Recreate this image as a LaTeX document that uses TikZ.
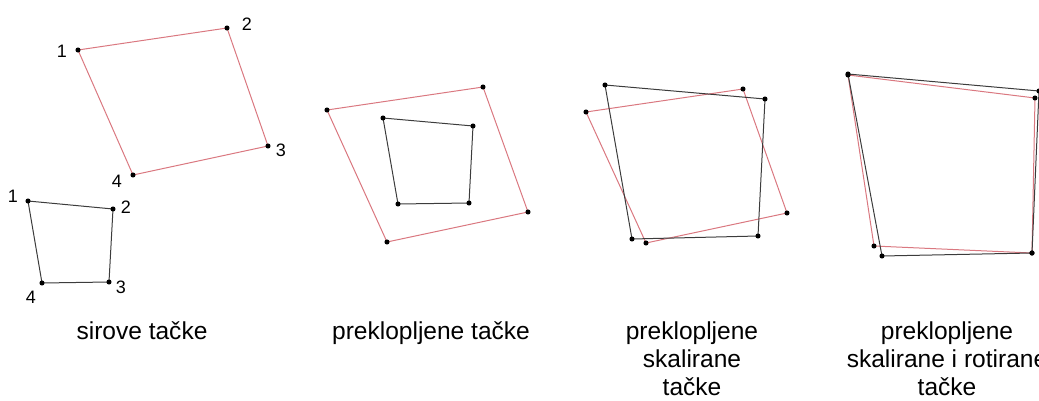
\documentclass[tikz,border=0pt]{standalone}
\usepackage{fontspec}
\setmainfont{Liberation Sans}
\definecolor{crvena}{RGB}{218,120,128}
\definecolor{siva}{RGB}{60,60,60}
\tikzset{
  crveni/.style={draw=crvena, line width=0.75pt, line join=round},
  crni/.style={draw=siva, line width=0.75pt, line join=round},
  broj/.style={font=\fontsize{13.5}{16}\selectfont, inner sep=0pt},
  natpis/.style={font=\fontsize{18.4}{21}\selectfont, align=center, anchor=base, inner sep=0pt},
}
\begin{document}
\begin{tikzpicture}[x=0.75pt, y=-0.75pt]
    \useasboundingbox (0,0) rectangle (1039,400);

    % Sirove tacke
    \coordinate (a1) at (78,50);
    \coordinate (a2) at (227,28);
    \coordinate (a3) at (268,146);
    \coordinate (a4) at (133,175);
    \coordinate (b1) at (28,201);
    \coordinate (b2) at (113,209);
    \coordinate (b3) at (109,282);
    \coordinate (b4) at (42,283);
    \draw[crveni] (a1) -- (a2) -- (a3) -- (a4) -- cycle;
    \draw[crni] (b1) -- (b2) -- (b3) -- (b4) -- cycle;
    \node[broj] (la1) at (62,51) {1};
    \node[broj] (la2) at (247,24) {2};
    \node[broj] (la3) at (281,150) {3};
    \node[broj] (la4) at (117,181) {4};
    \node[broj] (lb1) at (13,196) {1};
    \node[broj] (lb2) at (126,207) {2};
    \node[broj] (lb3) at (121,287) {3};
    \node[broj] (lb4) at (31,297) {4};

    % Preklopljene tacke
    \coordinate (c1) at (327,110);
    \coordinate (c2) at (483,87);
    \coordinate (c3) at (528,212);
    \coordinate (c4) at (387,242);
    \coordinate (d1) at (383,118);
    \coordinate (d2) at (473,126);
    \coordinate (d3) at (469,203);
    \coordinate (d4) at (398,204);
    \draw[crveni] (c1) -- (c2) -- (c3) -- (c4) -- cycle;
    \draw[crni] (d1) -- (d2) -- (d3) -- (d4) -- cycle;

    % Skalirane
    \coordinate (e1) at (586,112);
    \coordinate (e2) at (743,89);
    \coordinate (e3) at (787,213);
    \coordinate (e4) at (646,243);
    \coordinate (f1) at (605,85);
    \coordinate (f2) at (765,99);
    \coordinate (f3) at (758,236);
    \coordinate (f4) at (632,239);
    \draw[crveni] (e1) -- (e2) -- (e3) -- (e4) -- cycle;
    \draw[crni] (f1) -- (f2) -- (f3) -- (f4) -- cycle;

    % Skalirane i rotirane
    \coordinate (g1) at (848,75);
    \coordinate (g2) at (1035,98);
    \coordinate (g3) at (1032,253);
    \coordinate (g4) at (874,246);
    \coordinate (h1) at (848,74);
    \coordinate (h2) at (1039,91);
    \coordinate (h3) at (1032,253);
    \coordinate (h4) at (882,256);
    \draw[crveni] (g1) -- (g2) -- (g3) -- (g4) -- cycle;
    \draw[crni] (h1) -- (h2) -- (h3) -- (h4) -- cycle;

    \foreach \t in {a,b,c,d,e,f,g,h}
        \foreach \i in {1,2,3,4}
            \fill (\t\i) circle (1.9pt);

    % Natpisi
    \node[natpis] (n1) at (142,339) {sirove tačke};
    \node[natpis] (n2) at (431,339) {preklopljene tačke};
    \node[natpis] (n3) at (692,395) {preklopljene\\skalirane\\tačke};
    \node[natpis] (n4) at (947,395) {preklopljene\\skalirane i rotirane\\tačke};
\end{tikzpicture}
\end{document}
